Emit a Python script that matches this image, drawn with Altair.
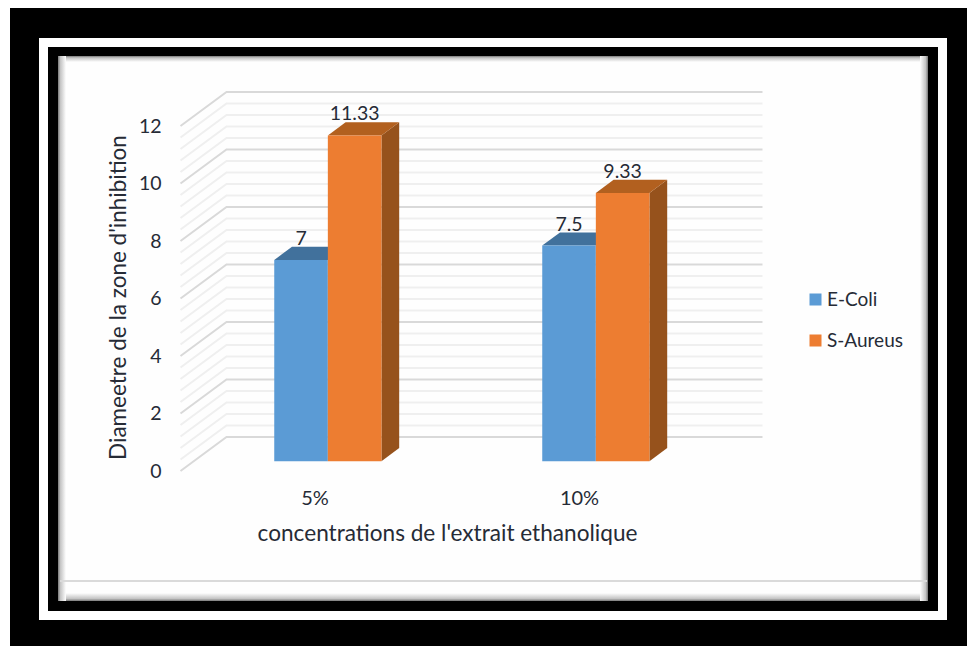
import altair as alt
import pandas as pd

# Chart content
CATEGORIES = ["5%", "10%"]
CATEGORY_TICKS = [0, 0.987]
SERIES = ["E-Coli", "S-Aureus"]
ECOLI = [7, 7.5]
SAUREUS = [11.33, 9.33]
VALUE_LABELS = {7: "7", 7.5: "7.5", 11.33: "11.33", 9.33: "9.33"}
Y_TICKS = [0, 2, 4, 6, 8, 10, 12]
MAJOR_GRID = Y_TICKS
MINOR_GRID = [round(i * 0.4, 1) for i in range(31) if i % 5]

FRONT = {"E-Coli": "#5B9BD5", "S-Aureus": "#ED7D31"}
TOP = {"E-Coli": "#41719C", "S-Aureus": "#B2601F"}
SIDE = "#96521C"
INK = "#262B36"
FONT = "Lato"

W, H = 967, 646

# Oblique projection: depth 0 is the front of the box, depth 1 is the back wall
DEPTH_X = 46 / 268
DEPTH_Y = 34 / 28.75
BAR_NEAR, BAR_FAR = 0.29, 0.676
BAR_W = 0.2

x_scale = alt.Scale(domain=[-314.5 / 268, (W - 314.5) / 268], range=[0, W], nice=False, zero=False)
y_scale = alt.Scale(domain=[(471 - H) / 28.75, 471 / 28.75], range=[H, 0], nice=False, zero=False)


def px(u, depth):
    return u + depth * DEPTH_X


def py(v, depth):
    return v + depth * DEPTH_Y


# Wall gridlines: diagonal along the side wall, then straight along the back wall
def grid_rows(values):
    rows = []
    for v in values:
        rows.append({"g": v, "o": 0, "x": px(-0.5, 0), "y": py(v, 0)})
        rows.append({"g": v, "o": 1, "x": px(-0.5, 1), "y": py(v, 1)})
        rows.append({"g": v, "o": 2, "x": px(1.5, 1), "y": py(v, 1)})
    return pd.DataFrame(rows)


fronts, sides, tops, labels = [], [], [], []
for name, vals, shift in (("E-Coli", ECOLI, -BAR_W), ("S-Aureus", SAUREUS, 0.0)):
    for i, v in enumerate(vals):
        key = f"{name}{i}"
        left = i + shift
        right = left + BAR_W
        x0 = px(left, BAR_NEAR)
        x1 = px(right, BAR_NEAR)
        dx = (BAR_FAR - BAR_NEAR) * DEPTH_X
        near_top, far_top = py(v, BAR_NEAR), py(v, BAR_FAR)
        near_base, far_base = py(0, BAR_NEAR), py(0, BAR_FAR)
        fronts.append({"series": name, "x": x0, "x2": x1, "y": near_top, "y2": near_base})
        labels.append({"x": (x0 + x1) / 2, "y": near_top, "text": VALUE_LABELS[v]})
        sides += [
            {"k": key, "series": name, "x": x1, "y": near_top, "y2": near_base},
            {"k": key, "series": name, "x": x1 + dx, "y": far_top, "y2": far_base},
        ]
        tops += [
            {"k": key, "series": name, "x": x0, "y": near_top, "y2": near_top},
            {"k": key, "series": name, "x": x0 + dx, "y": far_top, "y2": near_top},
            {"k": key, "series": name, "x": x1, "y": far_top, "y2": near_top},
            {"k": key, "series": name, "x": x1 + dx, "y": far_top, "y2": far_top},
        ]

fronts, sides, tops, labels = map(pd.DataFrame, (fronts, sides, tops, labels))

# Shared position encodings; the axes sit inside the canvas through negative offsets
X = alt.X(
    "x:Q", scale=x_scale,
    axis=alt.Axis(
        values=CATEGORY_TICKS,
        labelExpr=f"datum.value < 0.5 ? '{CATEGORIES[0]}' : '{CATEGORIES[1]}'",
        orient="bottom", offset=-148, domain=False, ticks=False, grid=False,
        labelPadding=0, labelBaseline="middle", labelFont=FONT, labelFontSize=20, labelColor=INK,
        title="concentrations de l'extrait ethanolique",
        titleX=447, titleY=35, titleFont=FONT, titleFontSize=22.6, titleFontWeight="normal",
        titleColor=INK, titleBaseline="middle", titleAlign="center", labelOverlap=False, zindex=1,
    ),
)
Y = alt.Y(
    "y:Q", scale=y_scale,
    axis=alt.Axis(
        values=Y_TICKS, orient="left", offset=-161, domain=False, ticks=False, grid=False,
        labelPadding=0, labelFont=FONT, labelFontSize=19.5, labelColor=INK, labelBaseline="middle",
        labelOverlap=False,
        title="Diameetre de la zone d'inhibition",
        titleX=-43, titleY=297, titleFont=FONT, titleFontSize=22.5, titleFontWeight="normal",
        titleColor=INK, titleBaseline="middle", titleAlign="center", zindex=1,
    ),
)


def band(x0, y0, x1, y1, color="#000000"):
    return alt.Chart().mark_rect(fill=color).encode(
        x=alt.value(x0), x2=alt.value(x1), y=alt.value(y0), y2=alt.value(y1)
    )


def shade(x0, y0, x1, y1, vertical, reverse=False):
    stops = [
        alt.GradientStop(offset=0, color="#777777"),
        alt.GradientStop(offset=0.3, color="#C4C4C4"),
        alt.GradientStop(offset=1, color="#FEFEFE"),
    ]
    a, b = (1, 0) if reverse else (0, 1)
    fill = alt.LinearGradient(
        gradient="linear", stops=stops,
        x1=0 if vertical else a, x2=0 if vertical else b,
        y1=a if vertical else 0, y2=b if vertical else 0,
    )
    return alt.Chart().mark_rect(fill=fill).encode(
        x=alt.value(x0), x2=alt.value(x1), y=alt.value(y0), y2=alt.value(y1)
    )


# Nested picture frame: black, white, black, then the soft-edged panel
frame = [
    band(10, 8, W, H),
    band(39, 38, 947, 620, "#FFFFFF"),
    band(48, 47, 938, 611),
    band(58, 56, 928, 601, "#FEFEFE"),
    shade(58, 56, 928, 62, True),
    shade(58, 593, 928, 601, True, True),
    shade(58, 56, 66, 601, False),
    shade(920, 56, 928, 601, False, True),
    band(60, 580, 927, 582, "#DADADA"),
]

grid_minor = alt.Chart(grid_rows(MINOR_GRID)).mark_line(color="#EFEFEF", strokeWidth=2).encode(
    x=X, y=Y, detail="g:N", order="o:Q"
)
grid_major = alt.Chart(grid_rows(MAJOR_GRID)).mark_line(color="#D9D9D9", strokeWidth=2).encode(
    x=X, y=Y, detail="g:N", order="o:Q"
)

top_blue = alt.Chart(tops[tops.series == "E-Coli"]).mark_area(orient="vertical", color=TOP["E-Coli"]).encode(
    x=X, y=Y, y2="y2:Q", detail="k:N"
)
top_orange = alt.Chart(tops[tops.series == "S-Aureus"]).mark_area(orient="vertical", color=TOP["S-Aureus"]).encode(
    x=X, y=Y, y2="y2:Q", detail="k:N"
)
side_faces = alt.Chart(sides[sides.series == "S-Aureus"]).mark_area(orient="vertical", color=SIDE).encode(
    x=X, y=Y, y2="y2:Q", detail="k:N"
)

front_faces = alt.Chart(fronts).mark_rect().encode(
    x=X,
    x2="x2:Q",
    y=Y,
    y2="y2:Q",
    color=alt.Color(
        "series:N",
        scale=alt.Scale(domain=SERIES, range=[FRONT[s] for s in SERIES]),
        legend=alt.Legend(
            title=None, orient="none", legendX=806, legendY=290, symbolType="square", symbolSize=144,
            symbolStrokeWidth=0, labelFont=FONT, labelFontSize=19, labelColor=INK, labelOffset=2,
            rowPadding=21,
        ),
    ),
)

value_labels = alt.Chart(labels).mark_text(
    font=FONT, fontSize=19.5, color=INK, dy=-21, baseline="middle", align="center"
).encode(x=X, y=Y, text="text:N")

chart = alt.layer(
    *frame, grid_minor, grid_major, side_faces, top_blue, top_orange, front_faces, value_labels
).properties(
    width=W, height=H, padding=0, autosize=alt.AutoSizeParams(type="none"), background="#FFFFFF"
).configure_view(stroke=None)

chart.save("out.html", embed_options={"renderer": "svg", "actions": False})
